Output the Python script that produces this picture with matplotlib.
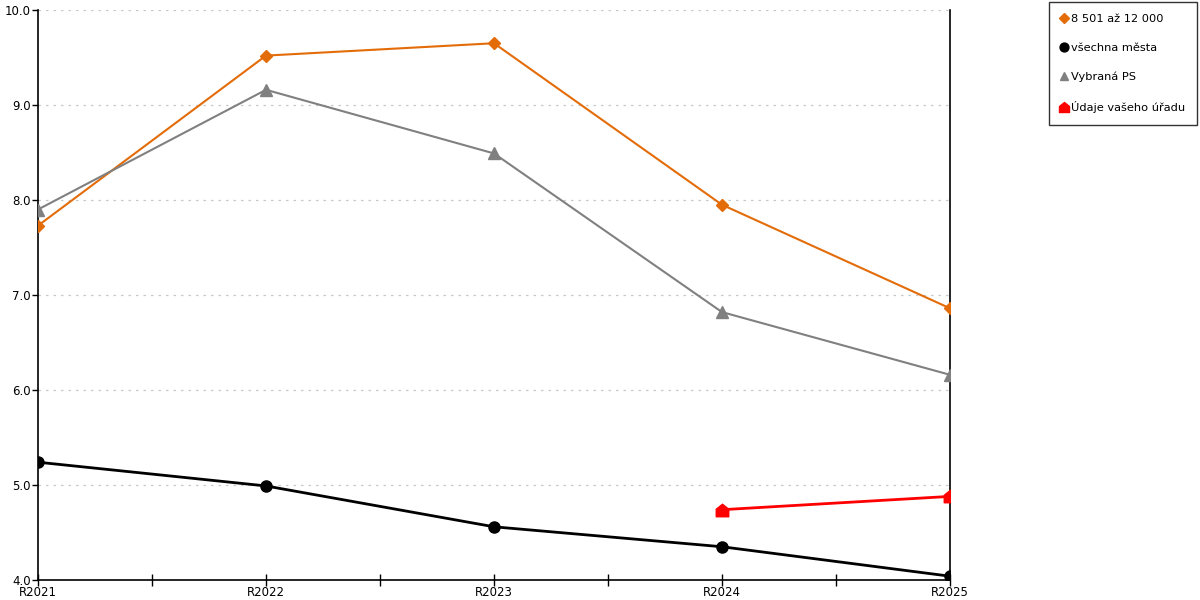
import numpy as np
import matplotlib
matplotlib.use('Agg')
import matplotlib.pyplot as plt
from matplotlib.path import Path

plt.rcParams['font.family'] = ['DejaVu Sans']

# data
years = ['R2021', 'R2022', 'R2023', 'R2024', 'R2025']
mesta_8501 = [7.73, 9.52, 9.65, 7.95, 6.86]
vsechna_mesta = [5.24, 4.99, 4.56, 4.35, 4.04]
vybrana_ps = [7.90, 9.16, 8.49, 6.82, 6.16]
vas_urad = [None, None, None, 4.74, 4.88]

# house shaped marker for the office series
house = Path([(-1, -1), (1, -1), (1, 0.2), (0, 1), (-1, 0.2), (-1, -1)],
             [Path.MOVETO, Path.LINETO, Path.LINETO, Path.LINETO, Path.LINETO, Path.CLOSEPOLY])

fig = plt.figure(figsize=(12, 6), dpi=100)
ax = fig.add_axes([38/1200, 20/600, 912/1200, 570/600])

x = np.arange(len(years))
ax.plot(x, mesta_8501, color='#E36C09', lw=1.5, marker='D', ms=6, label='8 501 až 12 000', zorder=3)
ax.plot(x, vsechna_mesta, color='#000000', lw=2, marker='o', ms=8, label='všechna města', zorder=3)
ax.plot(x, vybrana_ps, color='#808080', lw=1.5, marker='^', ms=8, label='Vybraná PS', zorder=3)
xr = [i for i, v in enumerate(vas_urad) if v is not None]
yr = [v for v in vas_urad if v is not None]
ax.plot(xr, yr, color='#FF0000', lw=2, marker=house, ms=9, label='Údaje vašeho úřadu', zorder=3)

ax.set_xlim(0, 4)
ax.set_ylim(4, 10)
ax.set_xticks(x)
ax.set_xticklabels(years)
ax.set_xticks(np.arange(0.5, 4, 1), minor=True)
ax.set_yticks(np.arange(4, 10.01, 1))
ax.set_yticklabels(['%.1f' % v for v in np.arange(4, 10.01, 1)])
ax.tick_params(axis='x', which='both', direction='inout', length=9, width=1, labelsize=8.5, pad=0)
ax.tick_params(axis='y', direction='out', length=4, width=1, labelsize=8.5, pad=1)
ax.yaxis.grid(True, linestyle=(0, (2, 4)), color='#C8C8C8', lw=0.9)
ax.set_axisbelow(True)
for s in ['left', 'bottom', 'right']:
    ax.spines[s].set_color('black')
    ax.spines[s].set_linewidth(1.2)
ax.spines['top'].set_visible(False)
ax.set_facecolor('white')

leg = fig.legend(loc='upper right', bbox_to_anchor=(1197/1200, 1 - 2/600), frameon=True,
                 fancybox=False, edgecolor='black', fontsize=8.2, handlelength=0.6,
                 handletextpad=0.3, labelspacing=1.65, borderpad=1.05, borderaxespad=0,
                 markerscale=0.8)
leg.get_frame().set_linewidth(1)
for h in leg.legend_handles:
    h.set_linestyle('None')

fig.savefig('out.png', dpi=100)
